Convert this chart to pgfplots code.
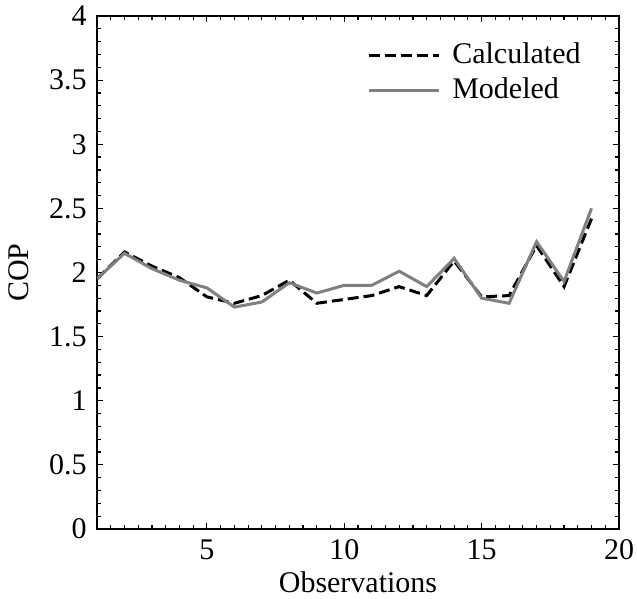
\documentclass[border=0pt]{standalone}
\usepackage{fontspec}
\setmainfont{Liberation Serif}
\usepackage{pgfplots}
\pgfplotsset{compat=1.18}
\usetikzlibrary{calc}
\definecolor{modgray}{RGB}{128,128,128}
\begin{document}
\fontsize{15}{18}\selectfont
\begin{tikzpicture}
\begin{axis}[
  scale only axis,
  width=261pt, height=256.5pt,
  xmin=1, xmax=20, ymin=0, ymax=4,
  xtick={5,10,15,20},
  ytick={0,0.5,1,1.5,2,2.5,3,3.5,4},
  minor xtick={1.5,2,...,19.5},
  minor ytick={0.1,0.2,...,3.95},
  tick align=inside,
  major tick length=3pt,
  minor tick length=2pt,
  tick style={black, line width=0.6pt},
  axis line style={line width=0.7pt},
  /pgf/number format/assume math mode=true,
  tick label style={font=\fontsize{15}{18}\selectfont},
  label style={font=\fontsize{15}{18}\selectfont},
  xlabel={Observations},
  ylabel={COP},
  xlabel style={yshift=4pt},
  ylabel style={yshift=0pt},
  legend style={draw=none, fill=none, at={(rel axis cs:1,1)}, anchor=north east,
    xshift=-14pt, yshift=-9pt, font=\fontsize{15}{18}\selectfont,
    row sep=1pt},
  legend cell align=left,
  legend image code/.code={\draw[#1] (0pt,0pt) -- (35pt,0pt); \path (39pt,0pt);},
]
\addplot[black, line width=1.5pt, dash pattern=on 5.5pt off 2.5pt] coordinates {
(1,1.95) (2,2.16) (3,2.05) (4,1.96) (5,1.81) (6,1.76) (7,1.82) (8,1.94) (9,1.76) (10,1.79) (11,1.82) (12,1.89) (13,1.82) (14,2.09) (15,1.81) (16,1.82) (17,2.21) (18,1.89) (19,2.42)
};
\addlegendentry{Calculated}
\addplot[modgray, line width=1.5pt] coordinates {
(1,1.95) (2,2.15) (3,2.03) (4,1.94) (5,1.88) (6,1.73) (7,1.77) (8,1.92) (9,1.84) (10,1.90) (11,1.90) (12,2.01) (13,1.89) (14,2.11) (15,1.80) (16,1.76) (17,2.24) (18,1.93) (19,2.50)
};
\addlegendentry{Modeled}
\end{axis}
\pgfresetboundingbox
\path ($(current axis.south west)+(-48.5pt,-35pt)$) rectangle ($(current axis.north east)+(9pt,8pt)$);
\end{tikzpicture}
\end{document}
